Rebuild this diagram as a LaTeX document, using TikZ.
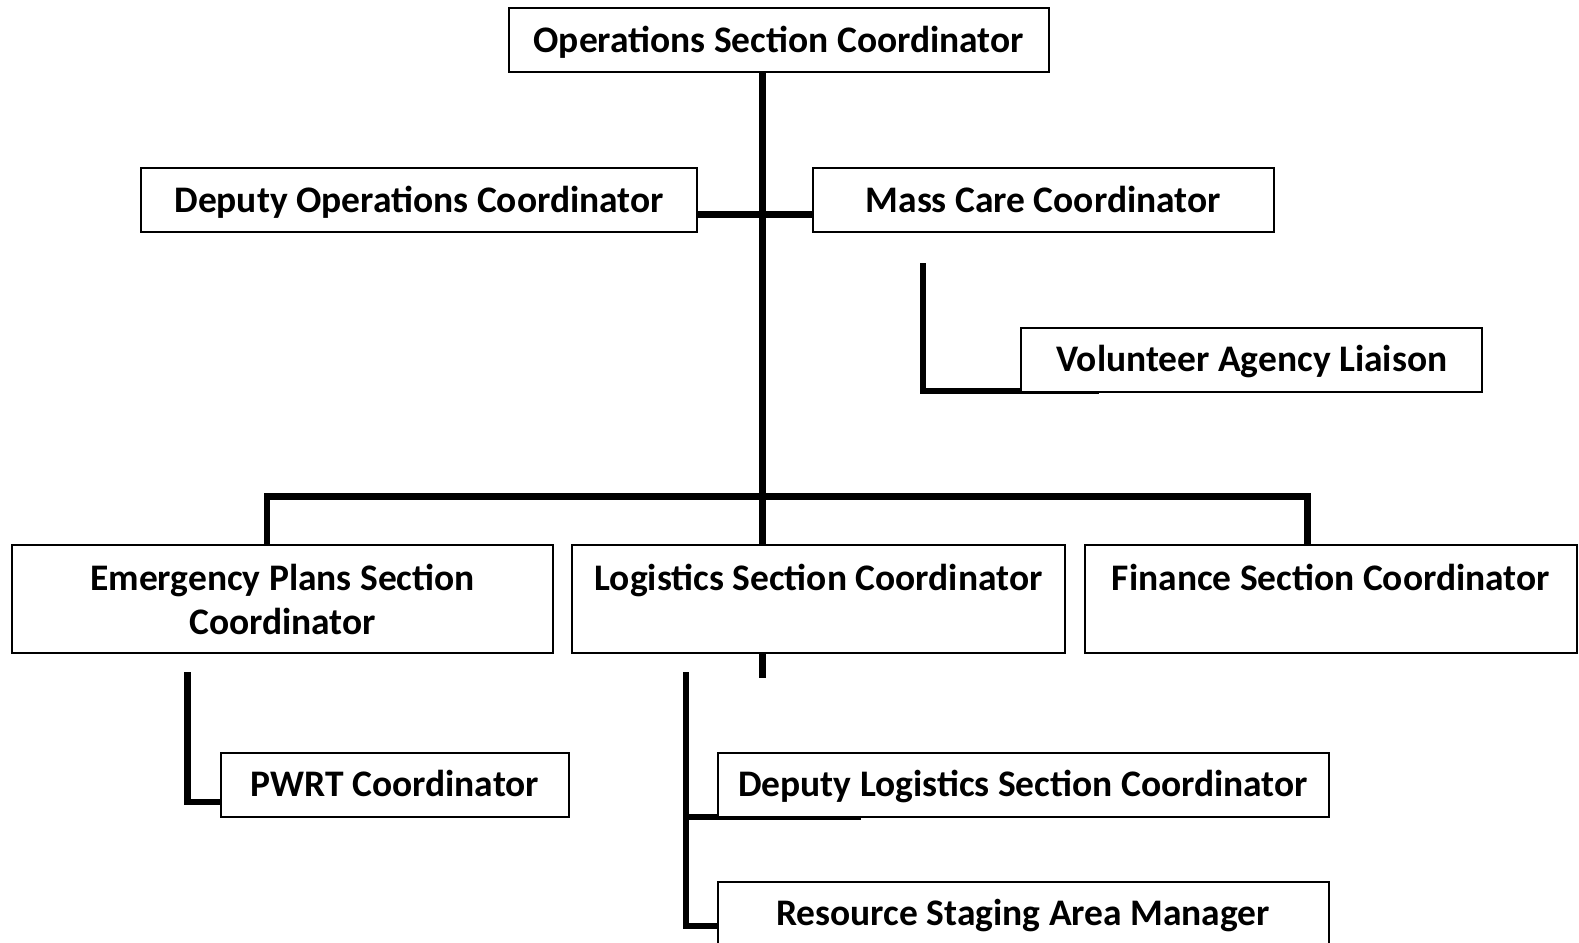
\documentclass[tikz,border=0pt]{standalone}
\usepackage{fontspec}
\setmainfont{Carlito}
\usetikzlibrary{calc}
\begin{document}
\begin{tikzpicture}[x=1.0075pt,y=-1.0075pt,
  box/.style={draw=black, line width=2pt, fill=white, rectangle, inner sep=0pt, align=center,
    font=\fontsize{37.5}{44.3}\selectfont\bfseries},
  one/.style={box, minimum height=64, text height=30.5pt, text depth=7pt},
  conn/.style={line width=6.5pt, line cap=rect, line join=miter}]
\useasboundingbox (0,0) rectangle (1567.25,935.98);
% connector end points
\coordinate (opsB) at (757,72);
\coordinate (barR) at (1298,493);
\coordinate (logTop) at (757,541);
\coordinate (depJ) at (694,213);
\coordinate (massJ) at (805,213);
\coordinate (mcTop) at (916,264);
\coordinate (mcEnd) at (1088,388);
\coordinate (emTop) at (265,541);
\coordinate (fiTop) at (1298,541);
\coordinate (logStub1) at (757,649);
\coordinate (logStub2) at (757,673);
\coordinate (pwTop) at (186,670);
\coordinate (pwEnd) at (218,796);
\coordinate (lgTop) at (681,670);
\coordinate (dlEnd) at (851,811);
\coordinate (rsEnd) at (710,919);

\draw[conn] (opsB) -- (logTop);
\draw[conn] (depJ) -- (massJ);
\draw[conn] (mcTop) |- (mcEnd);
\draw[conn] (emTop) |- (barR) -- (fiTop);
\draw[line width=6.5pt] (logStub1) -- (logStub2);
\draw[conn] (pwTop) |- (pwEnd);
\draw[conn] (lgTop) |- (rsEnd);
\draw[conn] (lgTop |- dlEnd) -- (dlEnd);

% boxes
\node[one, minimum width=540] (ops) at (773,40) {Operations Section Coordinator};
\node[one, minimum width=556] (dep) at (416,199) {Deputy Operations Coordinator};
\node[one, minimum width=461] (mass) at (1035.5,199) {Mass Care Coordinator};
\node[one, minimum width=461] (vol) at (1242.5,357) {Volunteer Agency Liaison};
\node[box, minimum width=541, minimum height=108] (emer) at (280.5,595) {Emergency Plans Section\\Coordinator};
\node[box, minimum width=493, minimum height=108] (log) at (812.5,595) {Logistics Section Coordinator\\\phantom{Coordinator}};
\node[box, minimum width=492, minimum height=108] (fin) at (1321,595) {Finance Section Coordinator\\\phantom{Coordinator}};
\node[one, minimum width=348] (pwrt) at (392,779) {PWRT Coordinator};
\node[one, minimum width=611] (dlog) at (1015.5,779) {Deputy Logistics Section Coordinator};
\node[one, minimum width=611] (res) at (1015.5,907) {Resource Staging Area Manager};
\end{tikzpicture}
\end{document}
